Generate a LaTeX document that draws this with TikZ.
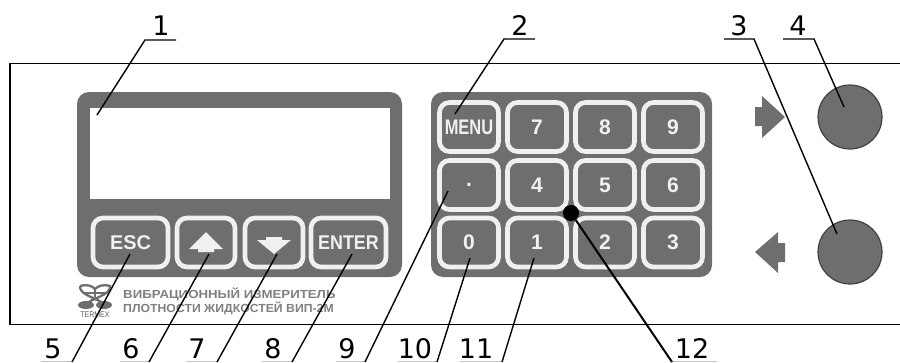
\documentclass[tikz,border=0pt]{standalone}
\usepackage{fontspec}
\setmainfont{DejaVu Sans}
\newfontfamily\keyfont{Liberation Sans}
\definecolor{panelgray}{HTML}{6E6E6E}
\definecolor{keyrim}{HTML}{F0F0F0}
\tikzset{
    housing/.style={rectangle, fill=panelgray, rounded corners=12*0.03cm, inner sep=0pt},
    keybox/.style={rectangle, draw=keyrim, line width=1.4mm, fill=panelgray, rounded corners=0.3cm, inner sep=0pt, text=keyrim, font=\keyfont\bfseries\fontsize{18}{18}\selectfont},
    knob/.style={circle, draw=black!75, line width=0.35mm, fill=panelgray, minimum size=1.92cm, inner sep=0pt},
    callout/.style={font=\fontsize{23}{23}\selectfont, inner sep=0pt, anchor=base},
    leader/.style={draw=black, line width=0.42mm},
    faintline/.style={draw=black!22, line width=0.3mm},
    legend/.style={font=\keyfont\bfseries\fontsize{10}{11}\selectfont, text=black!50, inner sep=0pt, anchor=base west}
}
\begin{document}
\begin{tikzpicture}[x=0.03cm, y=-0.03cm]
    \useasboundingbox (0,0) rectangle (900,362);
    % Panel outline
    \draw[line width=0.42mm] (900,63.5) -- (10,63.5) -- (10,324.5) -- (900,324.5);

    % Display block
    \node [housing, minimum width=325*0.03cm, minimum height=185*0.03cm] (dispblock) at (239.5,184.5) {};
    \node [rectangle, fill=white, inner sep=0pt, minimum width=300.5*0.03cm, minimum height=91*0.03cm] (screen) at (239.75,153.5) {};

    % Keys under the display
    \node [keybox, minimum width=75*0.03cm, minimum height=49*0.03cm] (esc) at (130.5,242.5) {\fontsize{17}{17}\selectfont ESC};
    \node [keybox, minimum width=58*0.03cm, minimum height=49*0.03cm] (up) at (206,242.5) {};
    \node [keybox, minimum width=58*0.03cm, minimum height=49*0.03cm] (down) at (274,242.5) {};
    \node [keybox, minimum width=75*0.03cm, minimum height=49*0.03cm] (enter) at (348.5,242.5) {\scalebox{0.9}[1]{\fontsize{17}{17}\selectfont ENTER}};
    \fill[keyrim] (189,249) -- (206,232) -- (223,249) -- (214,249) -- (214,252) -- (198,252) -- (198,249) -- cycle;
    \fill[keyrim] (257,240) -- (266,240) -- (266,237) -- (282,237) -- (282,240) -- (291,240) -- (274,254) -- cycle;

    % Number pad
    \node [housing, minimum width=281*0.03cm, minimum height=185*0.03cm] (padblock) at (571.5,184.5) {};
    \foreach \name/\txt/\kx/\ky in {menu/\scalebox{0.78}[1]{MENU}/469/127, k7/7/537/127, k8/8/605/127, k9/9/673/127,
        dot/./469/185, k4/4/537/185, k5/5/605/185, k6/6/673/185,
        k0/0/469/242.5, k1/1/537/242.5, k2/2/605/242.5, k3/3/673/242.5}
        \node [keybox, minimum width=59*0.03cm, minimum height=49*0.03cm] (\name) at (\kx,\ky) {\txt};

    % Direction arrows
    \fill[panelgray] (755,107) -- (762,107) -- (762,96) -- (785,117) -- (762,138) -- (762,126) -- (755,126) -- cycle;
    \fill[panelgray] (785,243) -- (778,243) -- (778,232) -- (755,252) -- (778,273) -- (778,262) -- (785,262) -- cycle;

    % Knobs
    \node [knob] (knobtop) at (850,117) {};
    \node [knob] (knobbot) at (850,252) {};

    % Logo and legend
    \node [legend] (legend1) at (123,298) {\scalebox{1.13}[1]{ВИБРАЦИОННЫЙ ИЗМЕРИТЕЛЬ}};
    \node [legend] (legend2) at (123,312) {\scalebox{1.045}[1]{ПЛОТНОСТИ ЖИДКОСТЕЙ ВИП-2М}};
    \node [font=\keyfont\fontsize{7}{7}\selectfont, text=black!65, inner sep=0pt] (termex) at (95,315) {\scalebox{0.85}[1]{TERMEX}};
    \draw[panelgray, line width=0.7mm] (80,286) .. controls (88,284) and (92,286) .. (95,289) .. controls (98,286) and (103,284) .. (110,286) .. controls (111,296) and (90,298) .. (84,306);
    \draw[panelgray, line width=0.7mm] (80,286) .. controls (79,296) and (100,298) .. (106,306);
    \draw[panelgray, line width=0.5mm] (85,293) -- (105,293) (95,289) -- (95,297);
    \fill[panelgray] (86,305) ellipse (8 and 4);
    \fill[panelgray] (104,305) ellipse (8 and 4);

    % Fixing point
    \node [circle, fill=black, minimum size=16*0.03cm, inner sep=0pt] (pin) at (571,213) {};

    % Callout labels
    \node [callout] (lab1) at (161,35) {1};
    \node [callout] (lab2) at (520,35) {2};
    \node [callout] (lab3) at (739,35) {3};
    \node [callout] (lab4) at (798,35) {4};
    \node [callout] (lab5) at (53,358) {5};
    \node [callout] (lab6) at (131,358) {6};
    \node [callout] (lab7) at (197,358) {7};
    \node [callout] (lab8) at (273,358) {8};
    \node [callout] (lab9) at (347,358) {9};
    \node [callout] (lab10) at (415,358) {10};
    \node [callout] (lab11) at (476,358) {11};
    \node [callout] (lab12) at (692,358) {12};

    % Leader lines
    \coordinate (tip1) at (97,115);
    \coordinate (tip2) at (455,114);
    \coordinate (tip3) at (837,234);
    \coordinate (tip4) at (844,107);
    \draw[leader] (tip1) -- (145,40) -- (176,40);
    \draw[leader] (tip2) -- (504,39) -- (535,39);
    \draw[leader] (tip3) -- (754,39) -- (724,39);
    \draw[leader] (tip4) -- (814,39) -- (783,39);
    \draw[faintline] (41,361.5) -- (72,361.5) (120,361.5) -- (149,361.5) (186,361.5) -- (217,361.5) (262,361.5) -- (292,361.5)
        (336,361.5) -- (365,361.5) (398,361.5) -- (437,361.5) (460,361.5) -- (502,361.5) (672,361.5) -- (717,361.5);
    \draw[leader] (130,254) -- (72,362);
    \draw[leader] (209,254) -- (149,362);
    \draw[leader] (277,254) -- (217,362);
    \draw[leader] (352,254) -- (292,362);
    \draw[leader] (448,191) -- (365,362);
    \draw[leader] (470,258) -- (437,362);
    \draw[leader] (534,258) -- (502,362);
    \draw[leader, line width=0.6mm] (pin) -- (672,362);
\end{tikzpicture}
\end{document}
